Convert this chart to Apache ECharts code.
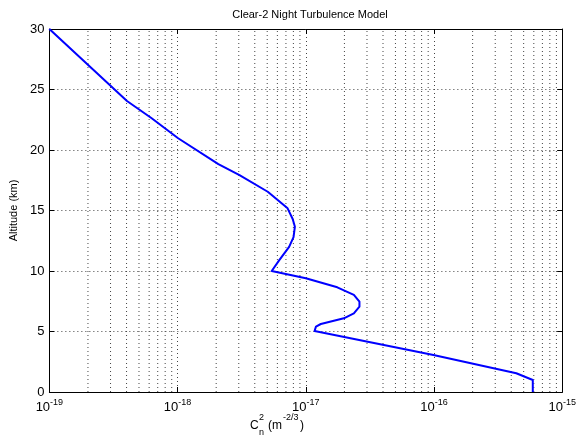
<!DOCTYPE html>
<html>
<head>
<meta charset="utf-8">
<script src="https://cdn.jsdelivr.net/npm/echarts@6/dist/echarts.min.js"></script>
<style>
  html, body { margin: 0; padding: 0; background: #fff; }
  #chart { width: 579px; height: 437px; }
</style>
</head>
<body>
<div id="chart"></div>
<script>
// Clear-2 night profile: altitude (km) and refractive-index structure constant Cn^2 (m^-2/3)
const altitudeKm = [30, 24.05, 22.62, 20.97, 18.84, 17.93, 16.55, 15.18, 14.3, 13.66, 12.8, 12.0, 10.9, 10.0,
                    9.40, 8.65, 8.02, 7.46, 7.05, 6.50, 6.09, 5.62, 5.40, 5.04, 3.06, 1.55, 0.99, 0];
const cn2 = [1.00e-19, 4.03e-19, 6.28e-19, 1.01e-18, 2.08e-18, 3.04e-18, 5.05e-18, 7.21e-18, 7.90e-18, 8.22e-18,
             8.02e-18, 7.41e-18, 6.21e-18, 5.42e-18,
             1.00e-17, 1.76e-17, 2.37e-17, 2.62e-17, 2.62e-17, 2.37e-17, 1.98e-17, 1.31e-17, 1.20e-17, 1.17e-17,
             9.89e-17, 4.38e-16, 5.89e-16, 5.89e-16];

const xMin = 1e-19, xMax = 1e-15;
const yMin = 0, yMax = 30, yStep = 5;
const decadeStarts = [1e-19, 1e-18, 1e-17, 1e-16];
const minorMultipliers = [2, 3, 4, 5, 6, 7, 8, 9];

const font = '"Liberation Sans", Arial, Helvetica, sans-serif';
const dotted = { color: '#444', width: 1, type: [1, 3] };

function expLabel(v) {
  const e = Math.round(Math.log10(v));
  return '{b|10}{s|' + e + '}';
}

// dotted vertical grid lines at the minor log positions (2..9 of each decade)
const minorGridSeries = [];
decadeStarts.forEach(d => minorMultipliers.forEach(m => {
  const v = m * d;
  minorGridSeries.push({
    type: 'line', silent: true, symbol: 'none', showSymbol: false,
    xAxisIndex: 0, yAxisIndex: 0, z: 1,
    data: [[v, yMin], [v, yMax]],
    lineStyle: dotted
  });
}));

const boxAxis = { show: true, onZero: false, lineStyle: { color: '#000', width: 1 } };
const innerTick = { show: true, inside: true, length: 5, lineStyle: { color: '#000' } };

const chart = echarts.init(document.getElementById('chart'), null, { renderer: 'canvas' });

chart.setOption({
  animation: false,
  backgroundColor: '#fff',
  title: {
    text: 'Clear-2 Night Turbulence Model',
    left: 305, top: 4, textAlign: 'center',
    textStyle: { fontFamily: font, fontSize: 11, fontWeight: 'normal', color: '#000' }
  },
  grid: { left: 47, right: 16, top: 29, bottom: 45, containLabel: false },
  xAxis: [{
    type: 'log', logBase: 10, min: xMin, max: xMax, position: 'bottom',
    axisLine: boxAxis, axisTick: innerTick,
    splitLine: { show: true, lineStyle: dotted },
    axisLabel: {
      margin: 6, formatter: expLabel,
      rich: {
        b: { fontFamily: font, fontSize: 13, color: '#000' },
        s: { fontFamily: font, fontSize: 9, color: '#000', padding: [0, 0, 9, 0] }
      }
    }
  }, {
    type: 'log', logBase: 10, min: xMin, max: xMax, position: 'top',
    axisLine: boxAxis, axisTick: innerTick,
    splitLine: { show: false }, axisLabel: { show: false }
  }],
  yAxis: [{
    type: 'value', min: yMin, max: yMax, interval: yStep, position: 'left',
    name: 'Altitude (km)', nameLocation: 'middle', nameGap: 28,
    nameTextStyle: { fontFamily: font, fontSize: 11, color: '#000' },
    axisLine: boxAxis, axisTick: innerTick,
    splitLine: { show: true, lineStyle: dotted },
    axisLabel: { margin: 5, fontFamily: font, fontSize: 13, color: '#000' }
  }, {
    type: 'value', min: yMin, max: yMax, interval: yStep, position: 'right',
    axisLine: boxAxis, axisTick: innerTick,
    splitLine: { show: false }, axisLabel: { show: false }
  }],
  graphic: [
    { type: 'text', left: 250, top: 420, style: { text: 'C', font: '12px ' + font, fill: '#000' } },
    { type: 'text', left: 259, top: 413, style: { text: '2', font: '9px ' + font, fill: '#000' } },
    { type: 'text', left: 259, top: 428, style: { text: 'n', font: '9px ' + font, fill: '#000' } },
    { type: 'text', left: 268, top: 420, style: { text: '(m', font: '12px ' + font, fill: '#000' } },
    { type: 'text', left: 283, top: 413, style: { text: '-2/3', font: '9px ' + font, fill: '#000' } },
    { type: 'text', left: 300, top: 420, style: { text: ')', font: '12px ' + font, fill: '#000' } }
  ],
  series: minorGridSeries.concat([{
    type: 'line',
    xAxisIndex: 0, yAxisIndex: 0,
    data: cn2.map((c, i) => [c, altitudeKm[i]]),
    showSymbol: false, symbol: 'none',
    lineStyle: { color: '#0000ff', width: 2, join: 'round' },
    z: 5
  }])
});
</script>
</body>
</html>
